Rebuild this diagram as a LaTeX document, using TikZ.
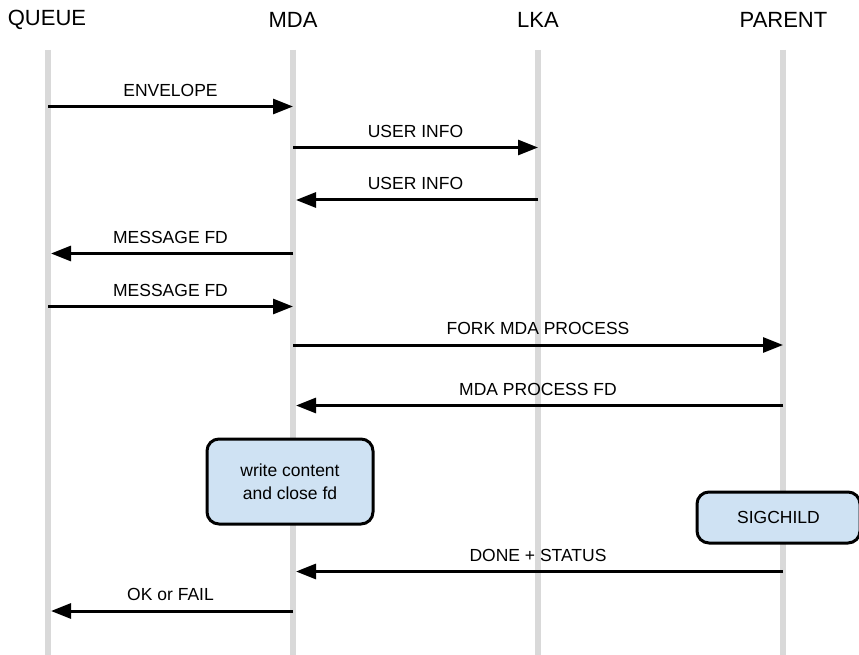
\documentclass[tikz,border=0pt]{standalone}
\usepackage{fontspec}
\setmainfont{Liberation Sans}
\usetikzlibrary{arrows.meta}
\definecolor{lifegray}{HTML}{D9D9D9}
\definecolor{notefill}{HTML}{CFE2F3}
\begin{document}
\begin{tikzpicture}[x=1pt,y=-1pt,
  actor/.style={font=\fontsize{22}{25}\selectfont, inner sep=0pt, anchor=center},
  lifeline/.style={draw=lifegray, line width=6pt},
  msg/.style={line width=3pt, -{Triangle[length=20pt,width=15pt]}},
  back/.style={msg, shorten >=3pt},
  msglabel/.style={font=\fontsize{17.5}{20}\selectfont, inner sep=0pt, anchor=center, yshift=16.5pt},
  note/.style={draw=black, line width=3pt, fill=notefill, rounded corners=12pt,
    font=\fontsize{17.5}{23}\selectfont, align=center, inner sep=0pt}
]
\useasboundingbox (0,0) rectangle (859,655);

% participants
\node[actor] (Q) at (47,20) {QUEUE};
\node[actor] (M) at (293,20) {MDA};
\node[actor] (L) at (538,20) {LKA};
\node[actor] (P) at (783.5,20) {PARENT};

% lifelines
\foreach \n/\x in {q/48, m/293, l/538, p/783} {
  \coordinate (\n top) at (\x,50);
  \coordinate (\n bot) at (\x,660);
  \draw[lifeline] (\n top) -- (\n bot);
}

% message anchor points on the lifelines
\foreach \k/\y in {1/106.5, 2/147.5, 3/200, 4/253.5, 5/306.5, 6/345, 7/405.5, 8/571.5, 9/611} {
  \coordinate (q\k) at (48,\y);
  \coordinate (m\k) at (293,\y);
  \coordinate (l\k) at (538,\y);
  \coordinate (p\k) at (783,\y);
}

% notes
\node[note, minimum width=166pt, minimum height=85pt] (write) at (290,481.5)
  {write content\\and close fd};
\node[note, minimum width=163pt, minimum height=51pt] (sig) at (778.5,517.5)
  {SIGCHILD};

% messages
\draw[msg]  (q1) -- node[msglabel] {ENVELOPE} (m1);
\draw[msg]  (m2) -- node[msglabel] {USER INFO} (l2);
\draw[back] (l3) -- node[msglabel] {USER INFO} (m3);
\draw[back] (m4) -- node[msglabel] {MESSAGE FD} (q4);
\draw[msg]  (q5) -- node[msglabel] {MESSAGE FD} (m5);
\draw[msg]  (m6) -- node[msglabel] {FORK MDA PROCESS} (p6);
\draw[back] (p7) -- node[msglabel] {MDA PROCESS FD} (m7);
\draw[back] (p8) -- node[msglabel] {DONE + STATUS} (m8);
\draw[back] (m9) -- node[msglabel] {OK or FAIL} (q9);
\end{tikzpicture}
\end{document}
